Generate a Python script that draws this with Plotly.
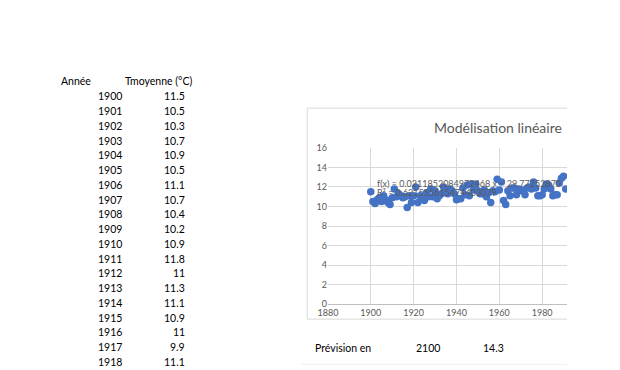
import plotly.graph_objects as go

years = list(range(1900, 1992))
temps = [11.5, 10.5, 10.3, 10.7, 10.9, 10.5, 11.1, 10.7, 10.4, 10.2,
         10.9, 11.8, 11.0, 11.3, 11.1, 10.9, 11.0, 9.9, 11.1, 10.4,
         11.1, 12.0, 10.4, 11.1, 10.8, 10.6, 11.4, 11.0, 11.8, 11.0,
         11.6, 10.8, 11.1, 11.3, 12.0, 11.4, 11.3, 11.8, 11.6, 11.3,
         10.7, 10.8, 10.8, 11.9, 11.2, 12.2, 11.1, 12.3, 11.7, 12.3,
         11.6, 11.3, 11.3, 11.7, 11.0, 11.4, 10.4, 11.6, 11.5, 12.8,
         11.7, 12.5, 10.6, 10.2, 11.6, 11.1, 11.9, 11.9, 11.2, 11.8,
         11.6, 11.7, 11.2, 11.9, 12.0, 11.8, 12.5, 11.9, 11.1, 11.1,
         11.2, 11.8, 12.3, 12.2, 11.8, 11.1, 11.2, 11.2, 12.4, 12.9,
         13.1, 11.8]
table_rows = 19
col_headers = ["Année", "Tmoyenne (°C)"]
chart_title = "Modélisation linéaire"
equation = "f(x) = 0.0211852084972468 x − 29.77252870"
r2_text = "R² = 0.621555615474403079"
forecast_label = "Prévision en"
forecast_year = "2100"
forecast_value = "14.3"
x_ticks = [1880, 1900, 1920, 1940, 1960, 1980]
y_ticks = [0, 2, 4, 6, 8, 10, 12, 14, 16]

W, H = 620, 370
OFF = 8  # page body margin


def px(x):
    return (x - OFF) / W


def py(y):
    return 1 - (y - OFF) / H


FONT = "Lato, 'Liberation Sans', sans-serif"
GRAY = "#595959"

fig = go.Figure()
fig.add_trace(go.Scatter(
    x=years, y=temps, mode="markers",
    marker=dict(color="#4472C4", size=7.5),
    cliponaxis=True, showlegend=False, hoverinfo="x+y"))

fig.update_layout(
    width=W, height=H, margin=dict(l=0, r=0, t=0, b=0),
    paper_bgcolor="white", plot_bgcolor="white",
    xaxis=dict(domain=[px(323), px(566)], range=[1880, 1991.6],
               tickvals=x_ticks, ticktext=[str(v) for v in x_ticks],
               showgrid=True, gridcolor="#d9d9d9", gridwidth=1,
               zeroline=False, showline=True, linecolor="#bfbfbf",
               ticks="", tickfont=dict(family=FONT, size=9, color=GRAY),
               fixedrange=True),
    yaxis=dict(domain=[py(307), py(146)], range=[0, 16],
               tickvals=y_ticks, ticktext=[str(v) for v in y_ticks],
               showgrid=True, gridcolor="#d9d9d9", gridwidth=1,
               zeroline=False, showline=False, ticks="",
               tickfont=dict(family=FONT, size=9, color=GRAY),
               fixedrange=True),
)

shapes = []
# chart frame (clipped on the right, no right border)
for (x0, y0, x1, y1) in [(302, 105, 566, 105), (302, 322.5, 566, 322.5), (302, 105, 302, 322.5)]:
    shapes.append(dict(type="line", xref="paper", yref="paper",
                       x0=px(x0), y0=py(y0), x1=px(x1), y1=py(y1),
                       line=dict(color="#d9d9d9", width=1)))
shapes.append(dict(type="line", xref="paper", yref="paper",
                   x0=px(296), y0=py(369), x1=px(566), y1=py(369),
                   line=dict(color="#eeeeee", width=1)))
fig.update_layout(shapes=shapes)

ann = []


def text(x, y, s, anchor="left", size=10.5, color="black"):
    ann.append(dict(xref="paper", yref="paper", x=px(x), y=py(y), text=s,
                    showarrow=False, xanchor=anchor, yanchor="middle",
                    font=dict(family=FONT, size=size, color=color)))


text(50, 77, col_headers[0])
text(115, 77, col_headers[1])
for i in range(table_rows):
    yy = 93 + i * 15.2
    text(116, yy, str(years[i]), anchor="right")
    v = temps[i]
    s = str(int(v)) if v == int(v) else f"{v}"
    text(180, yy, s, anchor="right")

text(496, 125, chart_title, anchor="center", size=14, color=GRAY)
text(371, 183, equation, size=9, color=GRAY)
text(371, 191.5, r2_text, size=9, color=GRAY)

text(308, 352, forecast_label)
text(410, 352, forecast_year)
text(479, 352, forecast_value)

fig.update_layout(annotations=ann)
fig.write_html("out.html")
